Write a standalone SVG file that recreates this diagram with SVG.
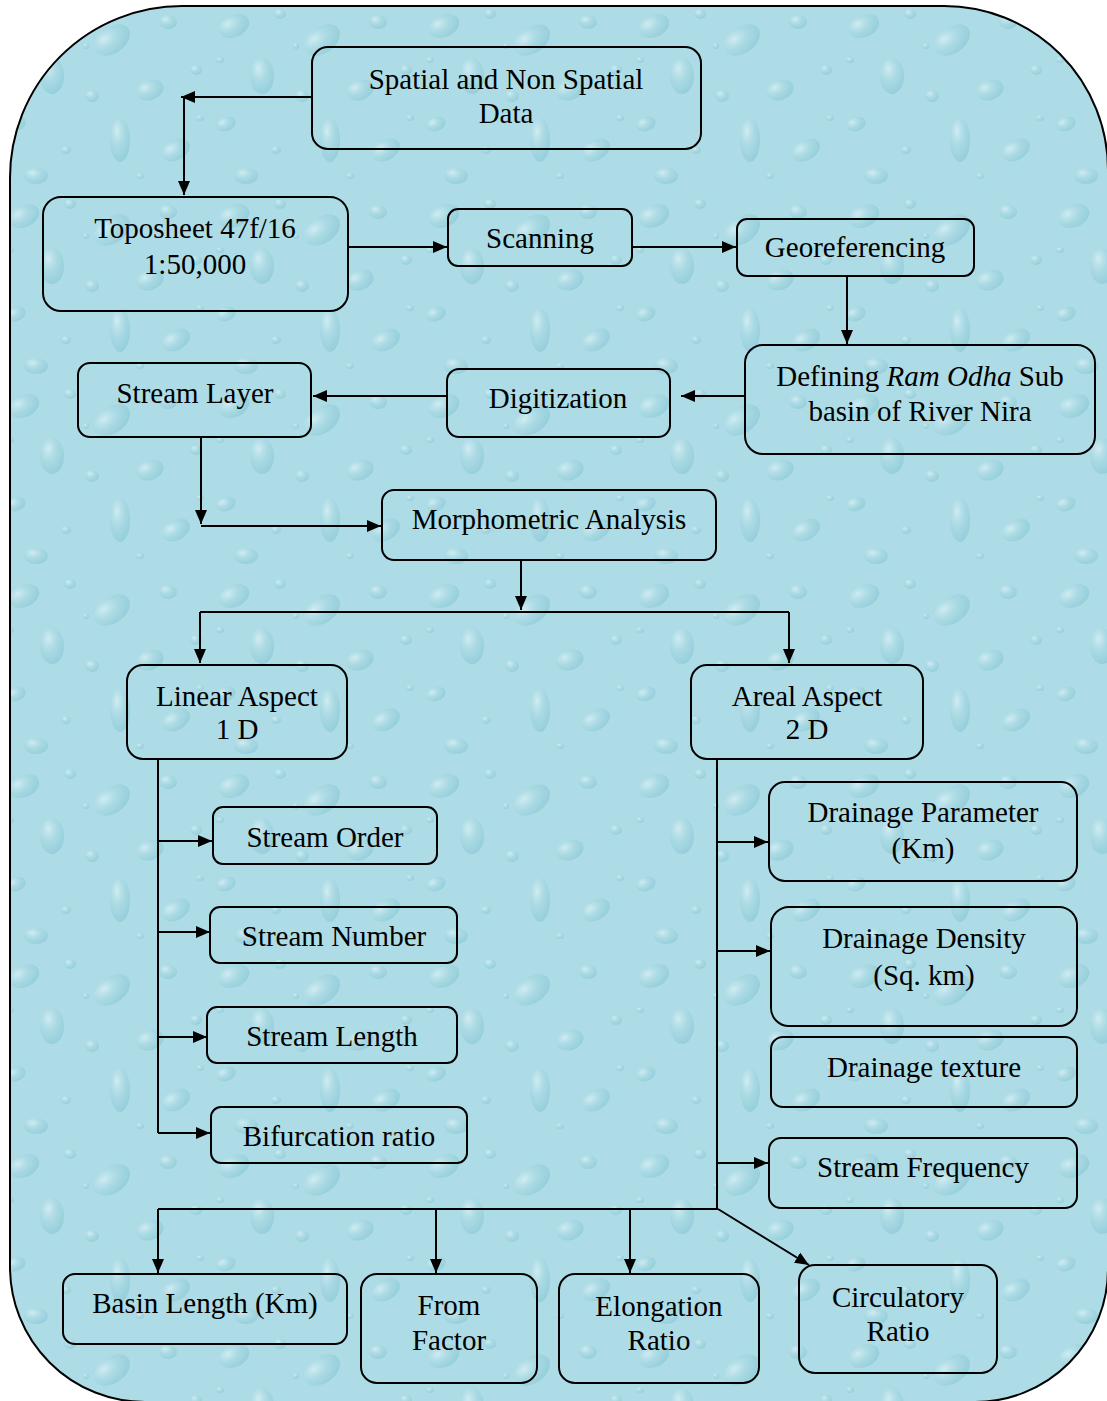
<svg xmlns="http://www.w3.org/2000/svg" width="1107" height="1401" viewBox="0 0 1107 1401">
<style>
.box{fill:none;stroke:#000;stroke-width:2}
.t{font-family:"Liberation Serif","Times New Roman",serif;font-size:29px;fill:#000;text-anchor:middle}
.c{fill:none;stroke:#000;stroke-width:2}
.a{marker-end:url(#ah)}
.d{fill:url(#drop)}
</style>
<defs>
<marker id="ah" markerUnits="userSpaceOnUse" markerWidth="14" markerHeight="12" refX="14" refY="6" orient="auto">
<path d="M0,0 L14,6 L0,12 Z" fill="#000"/>
</marker>
<radialGradient id="drop" cx="0.35" cy="0.3" r="0.75">
<stop offset="0" stop-color="#dff3f7" stop-opacity="0.7"/>
<stop offset="0.5" stop-color="#a3d6e0" stop-opacity="0.5"/>
<stop offset="1" stop-color="#7fc3d1" stop-opacity="0.55"/>
</radialGradient>
<pattern id="tex" patternUnits="userSpaceOnUse" width="210" height="190">
<rect width="210" height="190" fill="#aedce6"/>
<ellipse class="d" cx="24" cy="26" rx="16" ry="11" transform="rotate(-25 24 26)"/>
<ellipse class="d" cx="70" cy="14" rx="6" ry="5"/>
<ellipse class="d" cx="112" cy="40" rx="20" ry="13" transform="rotate(-35 112 40)"/>
<ellipse class="d" cx="168" cy="22" rx="9" ry="7"/>
<ellipse class="d" cx="52" cy="76" rx="12" ry="18"/>
<ellipse class="d" cx="92" cy="96" rx="7" ry="6"/>
<ellipse class="d" cx="150" cy="90" rx="14" ry="10" transform="rotate(-20 150 90)"/>
<ellipse class="d" cx="196" cy="70" rx="6" ry="5"/>
<ellipse class="d" cx="16" cy="124" rx="10" ry="7" transform="rotate(-20 16 124)"/>
<ellipse class="d" cx="120" cy="140" rx="10" ry="22"/>
<ellipse class="d" cx="66" cy="150" rx="5" ry="4"/>
<ellipse class="d" cx="176" cy="150" rx="15" ry="10" transform="rotate(-30 176 150)"/>
<ellipse class="d" cx="36" cy="176" rx="12" ry="8"/>
<ellipse class="d" cx="86" cy="46" rx="3" ry="3"/>
<ellipse class="d" cx="140" cy="176" rx="4" ry="3"/>
<ellipse class="d" cx="10" cy="60" rx="4" ry="3"/>
<ellipse class="d" cx="200" cy="118" rx="4" ry="3"/>
</pattern>
</defs>
<g id="background">
<path d="M182,6 H944 A164,164 0 0 1 1108,170 V1269 A133,133 0 0 1 975,1402 H145 A135,135 0 0 1 10,1267 V178 A172,172 0 0 1 182,6 Z" fill="url(#tex)" stroke="#000" stroke-width="2"/>
</g>
<g id="connectors">
<path class="c a" d="M312,97 H181"/>
<path class="c a" d="M184,97 V195"/>
<path class="c a" d="M348,247 H447"/>
<path class="c a" d="M632,247 H736"/>
<path class="c a" d="M847,276 V344"/>
<path class="c a" d="M745,396 H681"/>
<path class="c a" d="M447,396 H313"/>
<path class="c a" d="M201,437 V524"/>
<path class="c a" d="M201,526 H381"/>
<path class="c a" d="M521,560 V610"/>
<path class="c" d="M200,612 H789"/>
<path class="c a" d="M200,612 V663"/>
<path class="c a" d="M789,612 V663"/>
<path class="c" d="M158,759 V1133"/>
<path class="c a" d="M158,841 H212"/>
<path class="c a" d="M158,932 H210"/>
<path class="c a" d="M158,1037 H207"/>
<path class="c a" d="M158,1133 H210"/>
<path class="c" d="M717,759 V1209"/>
<path class="c a" d="M717,842 H768"/>
<path class="c a" d="M717,951 H770"/>
<path class="c a" d="M717,1163 H768"/>
<path class="c" d="M158,1209 H718"/>
<path class="c a" d="M158,1209 V1273"/>
<path class="c a" d="M436,1209 V1273"/>
<path class="c a" d="M630,1209 V1273"/>
<path class="c a" d="M718,1209 L809,1265"/>
</g>
<g id="n-spatial"><rect class="box" x="312" y="47" width="389" height="102" rx="16"/><text class="t" x="506" y="89">Spatial and Non Spatial</text><text class="t" x="506" y="123">Data</text></g>
<g id="n-toposheet"><rect class="box" x="43" y="197" width="305" height="114" rx="18"/><text class="t" x="195" y="238">Toposheet 47f/16</text><text class="t" x="195" y="274">1:50,000</text></g>
<g id="n-scanning"><rect class="box" x="448" y="209" width="184" height="57" rx="10"/><text class="t" x="540" y="248">Scanning</text></g>
<g id="n-georef"><rect class="box" x="737" y="219" width="237" height="57" rx="10"/><text class="t" x="855" y="257">Georeferencing</text></g>
<g id="n-defining"><rect class="box" x="745" y="345" width="350" height="109" rx="18"/><text class="t" x="920" y="386">Defining <tspan font-style="italic">Ram Odha</tspan> Sub</text><text class="t" x="920" y="421">basin of River Nira</text></g>
<g id="n-digitization"><rect class="box" x="447" y="369" width="223" height="68" rx="12"/><text class="t" x="558" y="408">Digitization</text></g>
<g id="n-streamlayer"><rect class="box" x="78" y="363" width="233" height="74" rx="12"/><text class="t" x="195" y="403">Stream Layer</text></g>
<g id="n-morph"><rect class="box" x="382" y="490" width="334" height="70" rx="12"/><text class="t" x="549" y="529">Morphometric Analysis</text></g>
<g id="n-linear"><rect class="box" x="127" y="665" width="220" height="94" rx="16"/><text class="t" x="237" y="706">Linear Aspect</text><text class="t" x="237" y="739">1 D</text></g>
<g id="n-areal"><rect class="box" x="691" y="665" width="232" height="94" rx="16"/><text class="t" x="807" y="706">Areal Aspect</text><text class="t" x="807" y="739">2 D</text></g>
<g id="n-streamorder"><rect class="box" x="213" y="807" width="224" height="57" rx="10"/><text class="t" x="325" y="847">Stream Order</text></g>
<g id="n-streamnumber"><rect class="box" x="210" y="907" width="247" height="56" rx="10"/><text class="t" x="334" y="946">Stream Number</text></g>
<g id="n-streamlength"><rect class="box" x="207" y="1007" width="250" height="56" rx="10"/><text class="t" x="332" y="1046">Stream Length</text></g>
<g id="n-bifurcation"><rect class="box" x="211" y="1107" width="256" height="56" rx="10"/><text class="t" x="339" y="1146">Bifurcation ratio</text></g>
<g id="n-drainparam"><rect class="box" x="769" y="782" width="308" height="99" rx="16"/><text class="t" x="923" y="822">Drainage Parameter</text><text class="t" x="923" y="858">(Km)</text></g>
<g id="n-draindensity"><rect class="box" x="771" y="907" width="306" height="119" rx="18"/><text class="t" x="924" y="948">Drainage Density</text><text class="t" x="924" y="985">(Sq. km)</text></g>
<g id="n-draintexture"><rect class="box" x="771" y="1037" width="306" height="70" rx="12"/><text class="t" x="924" y="1077">Drainage texture</text></g>
<g id="n-streamfreq"><rect class="box" x="769" y="1138" width="308" height="70" rx="12"/><text class="t" x="923" y="1177">Stream Frequency</text></g>
<g id="n-basinlength"><rect class="box" x="63" y="1274" width="284" height="70" rx="12"/><text class="t" x="205" y="1313">Basin Length (Km)</text></g>
<g id="n-fromfactor"><rect class="box" x="361" y="1274" width="176" height="109" rx="16"/><text class="t" x="449" y="1315">From</text><text class="t" x="449" y="1350">Factor</text></g>
<g id="n-elongation"><rect class="box" x="559" y="1274" width="200" height="109" rx="16"/><text class="t" x="659" y="1316">Elongation</text><text class="t" x="659" y="1350">Ratio</text></g>
<g id="n-circulatory"><rect class="box" x="799" y="1265" width="198" height="108" rx="16"/><text class="t" x="898" y="1307">Circulatory</text><text class="t" x="898" y="1341">Ratio</text></g>
</svg>
